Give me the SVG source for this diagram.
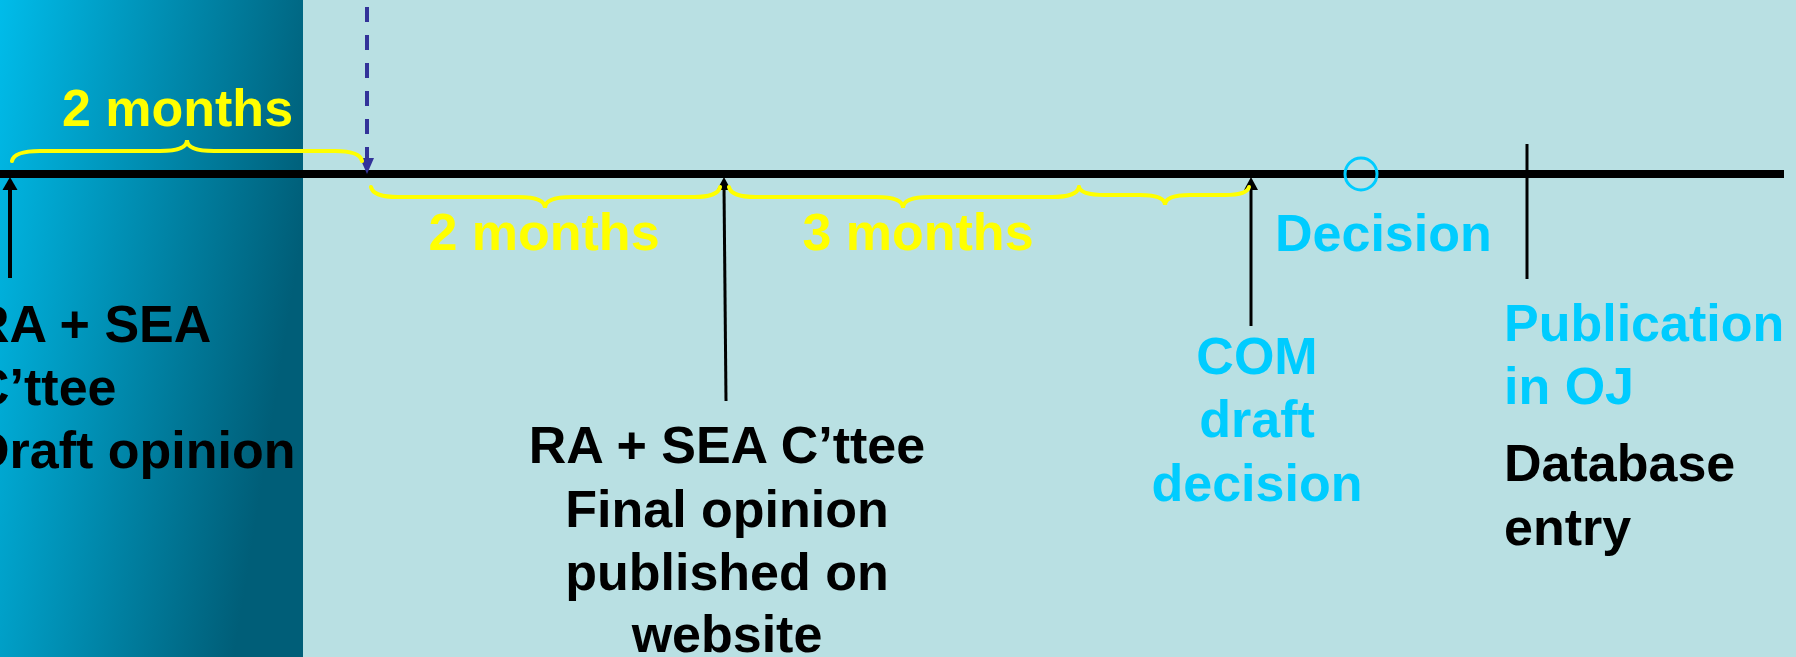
<svg xmlns="http://www.w3.org/2000/svg" width="1796" height="657" viewBox="0 0 1796 657">
<defs>
<linearGradient id="panel" x1="0" y1="0" x2="1" y2="0.35">
<stop offset="0" stop-color="#00BCEA"/>
<stop offset="1" stop-color="#005E78"/>
</linearGradient>
<style>
text{font-family:"Liberation Sans",Arial,sans-serif;font-weight:bold;font-size:52px}
.blk{fill:#000}
.cy{fill:#00CCFF}
.yl{fill:#FFFF00}
.brace{fill:none;stroke:#FFFF00;stroke-width:4;stroke-linecap:round}
.arr{stroke:#000;fill:none}
</style>
</defs>
<rect x="0" y="0" width="1796" height="657" fill="#B9E0E3"/>
<rect x="0" y="0" width="303" height="657" fill="url(#panel)"/>
<g id="connectors">
<line x1="0" y1="174" x2="1784" y2="174" stroke="#000" stroke-width="8"/>
<line x1="367" y1="7" x2="367" y2="160" stroke="#333399" stroke-width="4" stroke-dasharray="15,13"/>
<polygon points="367,174 360,158 374,158" fill="#333399"/>
<line class="arr" x1="10" y1="278" x2="10" y2="186" stroke-width="4"/>
<polygon points="10,177 2.5,190 17.5,190" fill="#000"/>
<line class="arr" x1="726" y1="401" x2="724" y2="186" stroke-width="3"/>
<polygon points="724,177 717,190 731,190" fill="#000"/>
<line class="arr" x1="1251" y1="326" x2="1251" y2="186" stroke-width="3"/>
<polygon points="1251,177 1244,190 1258,190" fill="#000"/>
<line class="arr" x1="1527" y1="144" x2="1527" y2="279" stroke-width="3"/>
<circle cx="1361" cy="174" r="16" fill="none" stroke="#00CCFF" stroke-width="3"/>
<path class="brace" d="M12,161 Q14,151 40,151 L160,151 Q187,151 187,140 Q187,151 214,151 L335,151 Q360,151 362,161"/>
<path class="brace" d="M371,187 Q373,197 398,197 L518,197 Q545,197 545,208 Q545,197 572,197 L694,197 Q718,197 720,187"/>
<path class="brace" d="M729,187 Q731,197 756,197 L876,197 Q903,197 903,208 Q903,197 930,197 L1052,197 Q1077,197 1079,187"/>
<path class="brace" d="M1079,187 Q1081,195 1105,195 L1140,195 Q1165,195 1165,205 Q1165,195 1190,195 L1225,195 Q1247,195 1249,187"/>
</g>
<g id="label-top-2months"><text class="yl" x="177.5" y="126" text-anchor="middle">2 months</text></g>
<g id="label-2months"><text class="yl" x="544" y="250" text-anchor="middle">2 months</text></g>
<g id="label-3months"><text class="yl" x="918" y="250" text-anchor="middle">3 months</text></g>
<g id="node-draft-opinion">
<text class="blk" x="-28" y="342">RA + SEA</text>
<text class="blk" x="-28" y="405">C’ttee</text>
<text class="blk" x="-28" y="468">Draft opinion</text>
</g>
<g id="node-final-opinion">
<text class="blk" x="727" y="463" text-anchor="middle">RA + SEA C’ttee</text>
<text class="blk" x="727" y="527" text-anchor="middle">Final opinion</text>
<text class="blk" x="727" y="590" text-anchor="middle">published on</text>
<text class="blk" x="727" y="652" text-anchor="middle">website</text>
</g>
<g id="node-com-draft">
<text class="cy" x="1257" y="374" text-anchor="middle">COM</text>
<text class="cy" x="1257" y="437" text-anchor="middle">draft</text>
<text class="cy" x="1257" y="501" text-anchor="middle">decision</text>
</g>
<g id="node-decision"><text class="cy" x="1275" y="251">Decision</text></g>
<g id="node-publication">
<text class="cy" x="1504" y="341">Publication</text>
<text class="cy" x="1504" y="404">in OJ</text>
<text class="blk" x="1504" y="481">Database</text>
<text class="blk" x="1504" y="545">entry</text>
</g>
</svg>
